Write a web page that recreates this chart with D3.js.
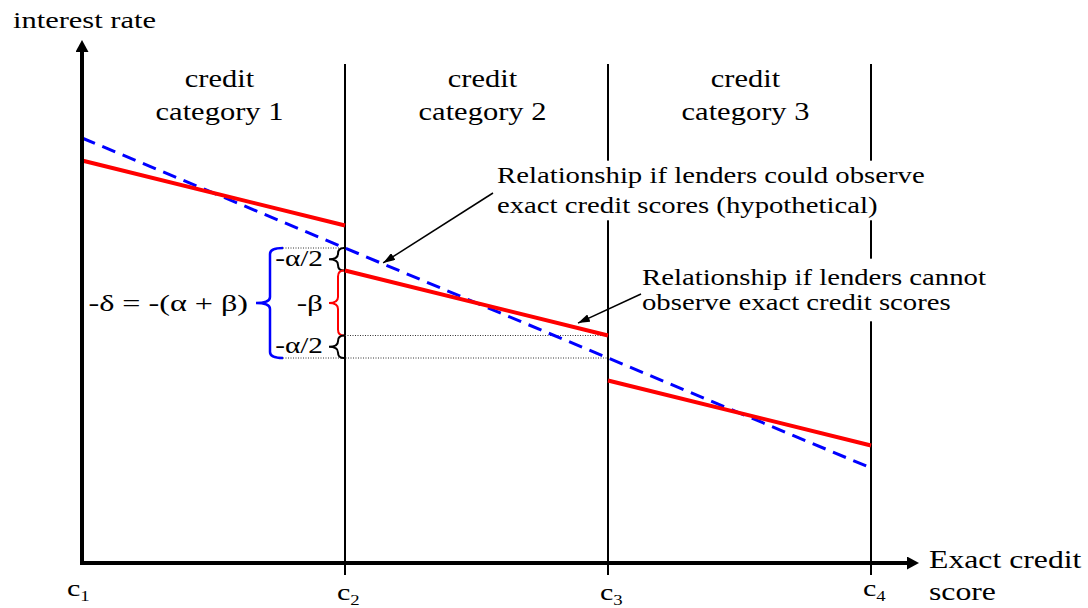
<!DOCTYPE html>
<html>
<head>
<meta charset="utf-8">
<script src="https://cdn.jsdelivr.net/npm/d3@7"></script>
<style>
  body { margin: 0; background: #fff; }
  text { font-family: "Liberation Serif", Tinos, "Times New Roman", Times, serif; fill: #000; }
</style>
</head>
<body>
<div id="chart"></div>
<script>
// 1: DATA
const cutoffs = [0, 1, 2, 3];                 // c1..c4 along the exact credit score
const cutoffSubs = ["1", "2", "3", "4"];
const categories = [["credit", "category 1"], ["credit", "category 2"], ["credit", "category 3"]];
const hypothetical = [85, 63, 41, 19];        // rate at c1..c4 if exact scores were observed
const observedStart = [80.5, 58.5, 36.5];     // rate at the left edge of each category
const observedEnd = [67.5, 45.5, 23.5];       // rate at the right edge of each category
const yTitle = ["interest rate"];
const xTitle = ["Exact credit", "score"];
const noteExact = ["Relationship if lenders could observe", "exact credit scores (hypothetical)"];
const noteCoarse = ["Relationship if lenders cannot", "observe exact credit scores"];

// 2: SETUP
const W = 1088, H = 608;
const SX = 1.25;   // the picture is stretched sideways, so text gets a horizontal scale

const svg = d3.select("#chart").append("svg")
    .attr("width", W)
    .attr("height", H);

const x = d3.scaleLinear().domain([0, 3]).range([82, 871]);
const y = d3.scaleLinear().domain([0, 100]).range([563, 63]);
const x0 = x(0), y0 = y(0);

const defs = svg.append("defs");
defs.append("marker")
    .attr("id", "bigHead")
    .attr("markerUnits", "userSpaceOnUse")
    .attr("viewBox", "0 0 12 13")
    .attr("markerWidth", 12).attr("markerHeight", 13)
    .attr("refX", 0).attr("refY", 6.5)
    .attr("orient", "auto")
    .append("path").attr("d", "M0,0L12,6.5L0,13Z").attr("fill", "#000");
defs.append("marker")
    .attr("id", "smallHead")
    .attr("markerUnits", "userSpaceOnUse")
    .attr("viewBox", "0 0 12 8")
    .attr("markerWidth", 12).attr("markerHeight", 8)
    .attr("refX", 12).attr("refY", 4)
    .attr("orient", "auto")
    .append("path").attr("d", "M0,0L12,4L0,8Z").attr("fill", "#000");

// text helper: multi-line text, stretched by SX
function label(px, py, lines, opts = {}) {
    const size = opts.size || 24, sx = opts.sx || SX, lh = opts.lh || 30;
    const g = svg.append("g").attr("transform", `translate(${px},${py}) scale(${sx},1)`);
    g.append("text")
        .attr("font-size", size)
        .attr("text-anchor", opts.anchor || "start")
        .selectAll("tspan")
        .data(lines)
        .join("tspan")
        .attr("x", 0)
        .attr("y", (d, i) => i * lh)
        .text(d => d);
    return g;
}

// white box behind a note so the category lines break around it
function backdrop(g, px, py, sx, padX, padY) {
    const bb = g.node().getBBox();
    svg.insert("rect", () => g.node())
        .attr("x", px + bb.x * sx - padX)
        .attr("y", py + bb.y - padY)
        .attr("width", bb.width * sx + 2 * padX)
        .attr("height", bb.height + 2 * padY)
        .attr("fill", "#fff");
}

function brace(xEnd, xStem, xTip, ya, yb) {
    const ym = (ya + yb) / 2, r = Math.min(6, (yb - ya) / 4);
    const p = d3.path();
    p.moveTo(xEnd, ya);
    p.quadraticCurveTo(xStem, ya, xStem, ya + r);
    p.lineTo(xStem, ym - r);
    p.quadraticCurveTo(xStem, ym, xTip, ym);
    p.quadraticCurveTo(xStem, ym, xStem, ym + r);
    p.lineTo(xStem, yb - r);
    p.quadraticCurveTo(xStem, yb, xEnd, yb);
    return p.toString();
}

// 3: CATEGORY BOUNDARIES
svg.selectAll(".cut")
    .data(cutoffs.slice(1))
    .join("line")
    .attr("class", "cut")
    .attr("x1", d => x(d)).attr("x2", d => x(d))
    .attr("y1", 64).attr("y2", y0 + 12)
    .attr("stroke", "#000")
    .attr("stroke-width", 2);

categories.forEach((c, i) => {
    label((x(cutoffs[i]) + x(cutoffs[i + 1])) / 2 + 6, 87, c, { anchor: "middle", size: 25, sx: 1.22, lh: 33 });
});

// 4: NOTES
const n1 = label(497, 183, noteExact, { size: 23, sx: 1.25, lh: 30 });
backdrop(n1, 497, 183, 1.25, 4, 2);
const n2 = label(642, 285, noteCoarse, { size: 23, sx: 1.25, lh: 25 });
backdrop(n2, 642, 285, 1.25, 4, 6);

// 5: GUIDES (dotted)
const guides = [
    { x1: 283, x2: x(1), v: hypothetical[1] },
    { x1: x(1), x2: x(2), v: observedEnd[1] },
    { x1: 283, x2: x(2), v: hypothetical[2] }
];
svg.selectAll(".guide")
    .data(guides)
    .join("line")
    .attr("class", "guide")
    .attr("x1", d => d.x1).attr("x2", d => d.x2)
    .attr("y1", d => y(d.v)).attr("y2", d => y(d.v))
    .attr("stroke", "#333")
    .attr("stroke-width", 1)
    .attr("stroke-dasharray", "1,1.5");

// 6: LINES
const line = d3.line().x(d => x(d[0])).y(d => y(d[1]));

svg.append("path")
    .attr("d", line(cutoffs.map((c, i) => [c, hypothetical[i]])))
    .attr("fill", "none")
    .attr("stroke", "#0000ff")
    .attr("stroke-width", 3)
    .attr("stroke-dasharray", "14,8");

svg.selectAll(".seg")
    .data(observedStart)
    .join("path")
    .attr("class", "seg")
    .attr("d", (d, i) => line([[cutoffs[i], d], [cutoffs[i + 1], observedEnd[i]]]))
    .attr("fill", "none")
    .attr("stroke", "#ff0000")
    .attr("stroke-width", 4);

// 7: ANNOTATION ARROWS
const hypAt = s => hypothetical[0] + (hypothetical[3] - hypothetical[0]) * s / 3;
const obsAt = s => observedStart[1] + (observedEnd[1] - observedStart[1]) * (s - 1);
svg.append("line")
    .attr("x1", 493).attr("y1", 193)
    .attr("x2", x(1.145)).attr("y2", y(hypAt(1.145)) - 1)
    .attr("stroke", "#000").attr("stroke-width", 1.5)
    .attr("marker-end", "url(#smallHead)");
svg.append("line")
    .attr("x1", 641).attr("y1", 294)
    .attr("x2", x(1.886)).attr("y2", y(obsAt(1.886)) - 5)
    .attr("stroke", "#000").attr("stroke-width", 1.5)
    .attr("marker-end", "url(#smallHead)");

// 8: BRACES
const braces = [
    { a: hypothetical[1], b: hypothetical[2], color: "#0000ff", xEnd: 283, xStem: 270, xTip: 256, w: 2.5 },
    { a: hypothetical[1], b: observedStart[1], color: "#000", xEnd: x(1) - 1, xStem: 338, xTip: 329, w: 2 },
    { a: observedStart[1], b: observedEnd[1], color: "#ff0000", xEnd: x(1) - 1, xStem: 338, xTip: 329, w: 2 },
    { a: observedEnd[1], b: hypothetical[2], color: "#000", xEnd: x(1) - 1, xStem: 338, xTip: 329, w: 2 }
];
svg.selectAll(".brace")
    .data(braces)
    .join("path")
    .attr("class", "brace")
    .attr("d", d => brace(d.xEnd, d.xStem, d.xTip, y(d.a), y(d.b)))
    .attr("fill", "none")
    .attr("stroke", d => d.color)
    .attr("stroke-width", d => d.w);

const mid = (a, b) => (y(a) + y(b)) / 2;
label(323, mid(hypothetical[1], observedStart[1]) + 7, ["-\u03b1/2"], { anchor: "end", size: 24, sx: 1.22 });
label(323, mid(observedStart[1], observedEnd[1]) + 8, ["-\u03b2"], { anchor: "end", size: 24, sx: 1.3 });
label(323, mid(observedEnd[1], hypothetical[2]) + 6, ["-\u03b1/2"], { anchor: "end", size: 24, sx: 1.22 });
label(248, mid(hypothetical[1], hypothetical[2]) + 8, ["-\u03b4 = -(\u03b1 + \u03b2)"], { anchor: "end", size: 24, sx: 1.34 });

// 9: AXES
svg.append("line")
    .attr("x1", x0).attr("y1", y0 + 2)
    .attr("x2", x0).attr("y2", 52)
    .attr("stroke", "#000").attr("stroke-width", 4)
    .attr("marker-end", "url(#bigHead)");
svg.append("line")
    .attr("x1", x0 - 2).attr("y1", y0)
    .attr("x2", 907).attr("y2", y0)
    .attr("stroke", "#000").attr("stroke-width", 4)
    .attr("marker-end", "url(#bigHead)");

const tickBase = [596, 600, 600, 596];
const ticks = svg.selectAll(".tickLabel")
    .data(cutoffs)
    .join("g")
    .attr("class", "tickLabel")
    .attr("transform", (d, i) => `translate(${x(d) - (i === 0 ? 15 : 8)},${tickBase[i]}) scale(${SX},1)`)
    .append("text")
    .attr("font-size", 24);
ticks.append("tspan").text("c");
ticks.append("tspan").attr("font-size", 15).attr("dy", 5).text((d, i) => cutoffSubs[i]);

label(13, 28, yTitle, { size: 24, sx: 1.27 });
label(929, 568, xTitle, { size: 25, sx: 1.27, lh: 32 });
</script>
</body>
</html>
